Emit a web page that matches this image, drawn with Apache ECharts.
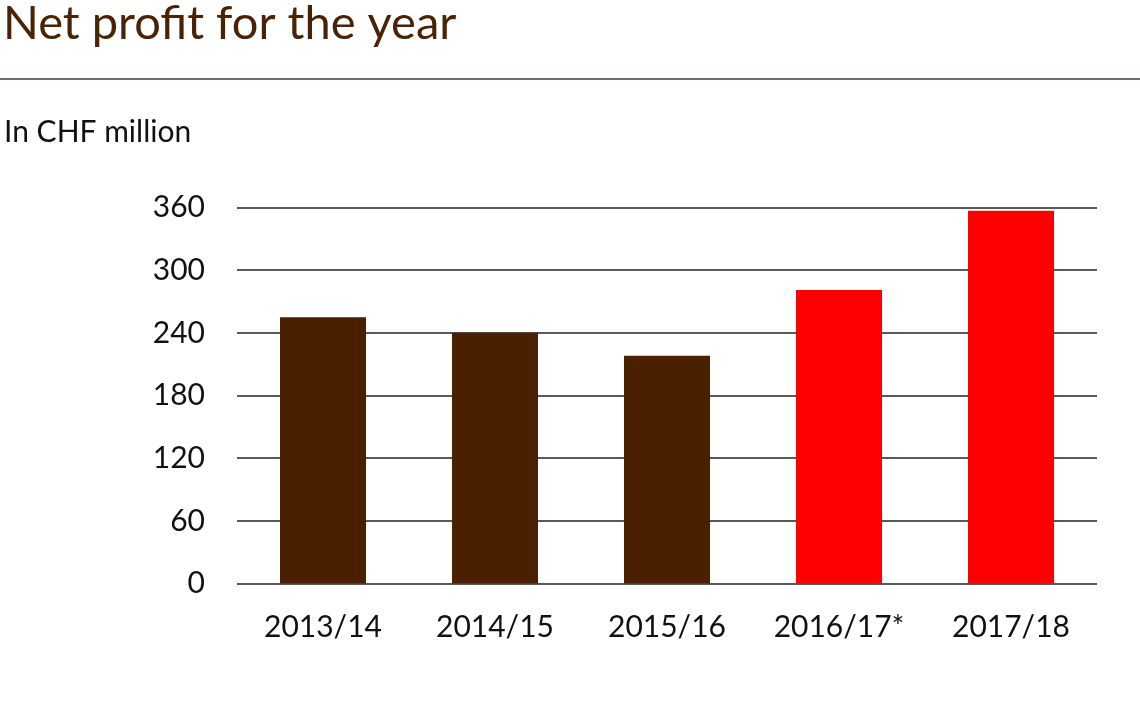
<!DOCTYPE html>
<html>
<head>
<meta charset="utf-8">
<script src="https://cdn.jsdelivr.net/npm/echarts@6/dist/echarts.min.js"></script>
<style>
  html, body { margin: 0; padding: 0; background: #fff; }
  #chart { width: 1140px; height: 719px; }
</style>
</head>
<body>
<div id="chart"></div>
<script>
// data
const years = ['2013/14', '2014/15', '2015/16', '2016/17*', '2017/18'];
const netProfit = [255, 240, 218, 281, 357];
const barColors = ['#4a2000', '#4a2000', '#4a2000', '#ff0000', '#ff0000'];

const chart = echarts.init(document.getElementById('chart'));
const font = 'Lato, "Open Sans", sans-serif';

chart.setOption({
  animation: false,
  textStyle: { fontFamily: font },
  title: [
    { text: 'Net profit for the year', left: -2, top: -5,
      textStyle: { fontFamily: font, fontSize: 47, fontWeight: 'normal', color: '#4a2306' } },
    { text: 'In CHF million', left: -1, top: 112,
      textStyle: { fontFamily: font, fontSize: 30, fontWeight: 'normal', color: '#111' } }
  ],
  graphic: [{
    type: 'line', shape: { x1: 0, y1: 79, x2: 1140, y2: 79 },
    style: { stroke: '#7d6b62', lineWidth: 2 }
  }],
  grid: { left: 237, right: 43, top: 207.5, bottom: 135.5 },
  xAxis: {
    type: 'category', data: years,
    axisLine: { show: false }, axisTick: { show: false },
    axisLabel: { fontSize: 30, color: '#111', margin: 29, fontFamily: font }
  },
  yAxis: {
    type: 'value', min: 0, max: 360, interval: 60,
    axisLine: { show: false }, axisTick: { show: false },
    axisLabel: { fontSize: 30, color: '#111', margin: 32, fontFamily: font },
    splitLine: { lineStyle: { color: '#222', width: 1.5 } }
  },
  series: [{
    type: 'bar', barWidth: '50%',
    data: netProfit.map((v, i) => ({ value: v, itemStyle: { color: barColors[i] } }))
  }]
});
</script>
</body>
</html>
